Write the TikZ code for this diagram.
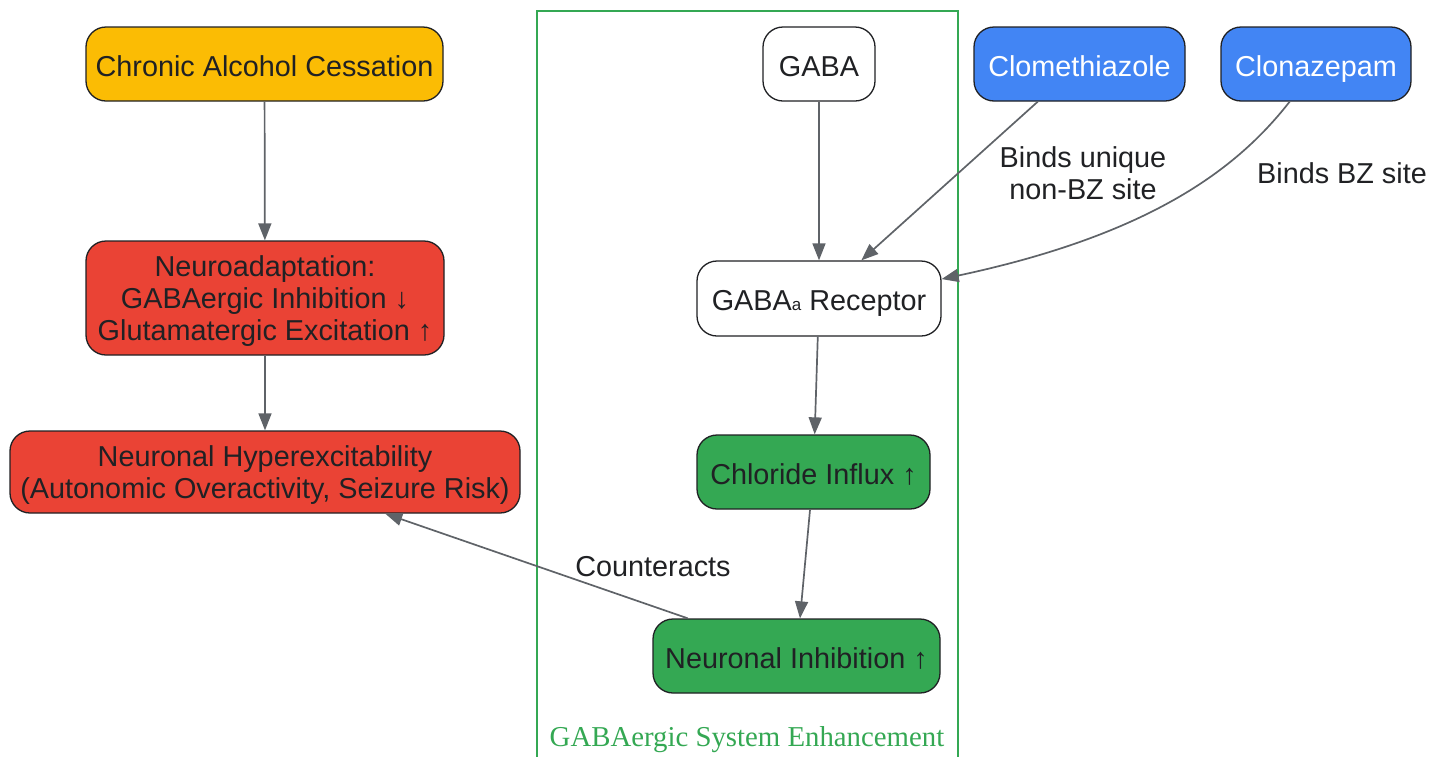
\documentclass[tikz,border=0pt]{standalone}
\usepackage{fontspec}
\setmainfont{Liberation Sans}
\newfontfamily\clusterfont{Liberation Serif}
\usetikzlibrary{arrows.meta}
\definecolor{gyellow}{HTML}{FBBC04}
\definecolor{gred}{HTML}{EA4335}
\definecolor{ggreen}{HTML}{34A853}
\definecolor{gblue}{HTML}{4285F4}
\definecolor{ggray}{HTML}{5F6368}
\definecolor{gtext}{HTML}{202124}
\tikzset{
    box/.style={draw=gtext, line width=1.3pt, rounded corners=20pt, align=center,
        text=gtext, minimum height=74pt, inner sep=0pt, text depth=0pt},
    unalinea/.style={box, text height=24pt},
    flecha/.style={ggray, line width=1.7pt, -{Triangle[length=17pt,width=13pt]}},
    etiqueta/.style={text=gtext, align=center}
}
\begin{document}
\begin{tikzpicture}[x=1pt, y=-1pt, font=\fontsize{28.8}{32}\selectfont]
        \useasboundingbox (0,0) rectangle (1444,756);
        %Grupo GABAergico
        \draw[ggreen, line width=1.5pt] (537,11) rectangle (958,770);
        \node[text=ggreen, font=\clusterfont\fontsize{28.8}{32}\selectfont] (clusterlab) at (747,740) {GABAergic System Enhancement};
        %Nodos
        \node[unalinea, fill=gyellow, minimum width=357pt] (chronic) at (264.5,64) {Chronic Alcohol Cessation};
        \node[box, fill=gred, minimum width=358pt, minimum height=114pt] (neuro) at (265,298) {Neuroadaptation:\\GABAergic Inhibition ↓\\Glutamatergic Excitation ↑};
        \node[box, fill=gred, minimum width=510pt, minimum height=82pt] (hyper) at (265,472) {Neuronal Hyperexcitability\\(Autonomic Overactivity, Seizure Risk)};
        \node[unalinea, fill=white, minimum width=112pt] (gaba) at (819,64) {GABA};
        \node[unalinea, fill=white, minimum width=244pt, minimum height=75pt] (recep) at (819,298.5) {GABA{\fontsize{17}{17}\selectfont a} Receptor};
        \node[unalinea, fill=ggreen, minimum width=233pt] (chlor) at (813.5,472) {Chloride Influx ↑};
        \node[unalinea, fill=ggreen, minimum width=287pt] (inhib) at (796.5,656) {Neuronal Inhibition ↑};
        \node[unalinea, fill=gblue, text=white, minimum width=211pt] (clometh) at (1079.5,64) {Clomethiazole};
        \node[unalinea, fill=gblue, text=white, minimum width=190pt] (clon) at (1316,64) {Clonazepam};
        %Flechas
        \foreach \a/\b in {chronic/neuro, neuro/hyper, gaba/recep, clometh/recep, recep/chlor, chlor/inhib, inhib/hyper}
            \draw[flecha] (\a) -- (\b);
        \draw[flecha] (clon.235) .. controls +(128:80) and +(348:220) .. (recep.9);
        %Etiquetas
        \node[etiqueta] (lab1) at (1083,173) {Binds unique\\non-BZ site};
        \node[etiqueta] (lab2) at (1342,173) {Binds BZ site};
        \node[etiqueta] (lab3) at (653,567) {Counteracts};
    \end{tikzpicture}
\end{document}
